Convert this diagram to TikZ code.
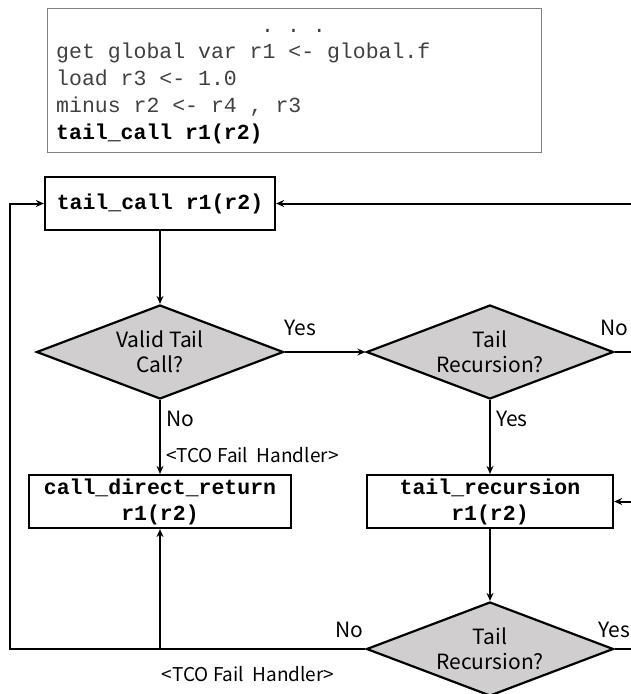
\documentclass[tikz,border=0pt]{standalone}
\usepackage{fontspec}
\setmonofont{Liberation Mono}
\newfontfamily\kfont{Noto Sans CJK KR}
\usetikzlibrary{shapes.geometric,arrows.meta,positioning,calc}
\definecolor{diagray}{RGB}{208,206,206}
\definecolor{codegray}{RGB}{64,64,64}
\definecolor{framegray}{RGB}{128,128,128}

\begin{document}
\begin{tikzpicture}[x=1pt, y=-1pt,
    codebox/.style={rectangle, draw=framegray, line width=1pt, minimum width=494pt, minimum height=144pt, anchor=north west, inner sep=0pt},
    codeline/.style={anchor=base west, inner sep=0pt, text=codegray, font=\ttfamily\fontsize{21.5}{27}\selectfont},
    procbox/.style={rectangle, draw, line width=2.2pt, minimum height=53pt, align=center, inner sep=0pt, font=\ttfamily\bfseries\fontsize{21.5}{26}\selectfont},
    decision/.style={diamond, draw, line width=2.2pt, fill=diagray, shape aspect=2.63, minimum width=247pt, minimum height=94pt, inner sep=0pt, align=center, font=\kfont\fontsize{21}{25}\selectfont},
    arr/.style={-{Stealth[length=8pt,width=7pt]}, line width=2pt},
    wire/.style={line width=2pt},
    lbl/.style={font=\kfont\fontsize{21}{25}\selectfont, inner sep=1pt},
    hlbl/.style={font=\kfont\fontsize{19}{22}\selectfont, inner sep=1pt},
]
\useasboundingbox (0,0) rectangle (631,694);
% Code listing
\node[codebox] (code) at (47,8) {};
\node[codeline] (dots) at (261,32) {. . .};
\node[codeline] (ln1)  at (56,58)  {get global var r1 <- global.f};
\node[codeline] (ln2)  at (56,85)  {load r3 <- 1.0};
\node[codeline] (ln3)  at (56,112) {minus r2 <- r4 , r3};
\node[codeline, text=black, font=\ttfamily\bfseries\fontsize{21.5}{27}\selectfont] (ln4) at (56,139) {tail\_call r1(r2)};
% Flow nodes
\node[procbox, minimum width=230pt] (tcall)  at (160,203.5) {tail\_call r1(r2)};
\node[decision]                     (valid)  at (160,352)   {Valid Tail\\Call?};
\node[decision]                     (rec1)   at (490,352)   {Tail\\Recursion?};
\node[procbox, minimum width=262pt] (direct) at (160,501.5) {call\_direct\_return\\r1(r2)};
\node[procbox, minimum width=246pt] (trec)   at (490,501.5) {tail\_recursion\\r1(r2)};
\node[decision]                     (rec2)   at (490,649)   {Tail\\Recursion?};
\coordinate (rimR)  at (631,0);
\coordinate (loopL) at (10,649);
% Connections
\draw[arr] (tcall) -- (valid);
\draw[arr] (valid.east) -- node[lbl, pos=0, anchor=south west, xshift=-2pt, yshift=14pt]{Yes} (rec1.west);
\draw[wire] (rec1.east) -- node[lbl, pos=0, anchor=south, yshift=14pt]{No} (rec1.east -| rimR);
\draw[arr] (valid.south) -- node[lbl, pos=0.25, anchor=west, xshift=4pt]{No}
    node[hlbl, pos=0.75, anchor=west, xshift=4pt]{<TCO Fail\ \ Handler>} (direct.north);
\draw[arr] (rec1.south) -- node[lbl, pos=0.25, anchor=west, xshift=4pt]{Yes} (trec.north);
\draw[arr] (tcall.east -| rimR) -- (tcall.east);
\draw[arr] (trec.east -| rimR) -- (trec.east);
\draw[arr] (trec) -- (rec2);
% Fail loop back to the top
\draw[arr] (rec2.west) -- node[lbl, pos=0, anchor=south east, yshift=9pt]{No}
    node[hlbl, pos=0.33, yshift=-25pt]{<TCO Fail\ \ Handler>} (loopL) |- (tcall.west);
\draw[arr] (direct.south |- loopL) -- (direct.south);
\draw[wire] (rec2.east) -- node[lbl, pos=0, anchor=south, yshift=9pt]{Yes} (rec2.east -| rimR);
\end{tikzpicture}
\end{document}
